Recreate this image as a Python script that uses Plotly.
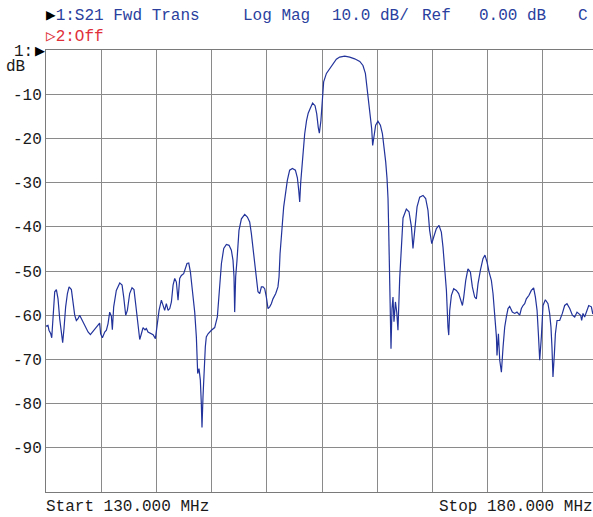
import plotly.graph_objects as go

# ---- data ----
freq_mhz = [
    130.00, 130.18, 130.27, 130.43, 130.52, 130.64, 130.79, 130.94, 131.09, 131.24,
    131.39, 131.51, 131.63, 131.78, 131.94, 132.09, 132.30, 132.45, 132.60, 132.75,
    132.90, 133.05, 133.20, 133.36, 133.60, 133.81, 134.02, 134.26, 134.50, 134.71,
    134.86, 134.95, 135.11, 135.32, 135.47, 135.62, 135.77, 135.92, 136.01, 136.13,
    136.37, 136.68, 136.89, 137.04, 137.22, 137.37, 137.58, 137.79, 137.97, 138.12,
    138.28, 138.49, 138.64, 138.79, 138.97, 139.09, 139.24, 139.45, 139.70, 139.91,
    140.06, 140.24, 140.45, 140.60, 140.75, 140.90, 141.06, 141.21, 141.36, 141.51,
    141.66, 141.81, 141.96, 142.11, 142.26, 142.47, 142.62, 142.77, 142.93, 143.08,
    143.26, 143.47, 143.62, 143.74, 143.86, 143.98, 144.07, 144.13, 144.22, 144.31,
    144.43, 144.52, 144.68, 144.98, 145.28, 145.52, 145.67, 145.89, 146.10, 146.34,
    146.58, 146.79, 146.94, 147.03, 147.09, 147.18, 147.30, 147.48, 147.70, 148.00,
    148.24, 148.45, 148.60, 148.75, 148.90, 149.06, 149.20, 149.36, 149.51, 149.66,
    149.81, 149.96, 150.11, 150.26, 150.41, 150.56, 150.81, 151.01, 151.11, 151.20,
    151.29, 151.41, 151.53, 151.71, 151.86, 152.07, 152.32, 152.59, 152.77, 152.89,
    152.98, 153.07, 153.19, 153.28, 153.43, 153.60, 153.75, 153.92, 154.15, 154.37,
    154.52, 154.66, 154.76, 154.90, 155.03, 155.15, 155.40, 155.70, 156.00, 156.30,
    156.60, 157.06, 157.51, 157.96, 158.42, 158.71, 158.93, 159.11, 159.26, 159.38,
    159.50, 159.59, 159.71, 159.86, 160.07, 160.29, 160.47, 160.62, 160.77, 160.89,
    160.98, 161.04, 161.13, 161.19, 161.25, 161.34, 161.43, 161.52, 161.65, 161.77,
    161.88, 162.04, 162.19, 162.34, 162.64, 162.88, 163.10, 163.24, 163.40, 163.61,
    163.85, 164.15, 164.39, 164.60, 164.75, 164.94, 165.12, 165.36, 165.60, 165.81,
    165.96, 166.11, 166.27, 166.41, 166.48, 166.57, 166.72, 166.93, 167.17, 167.38,
    167.56, 167.72, 167.84, 168.02, 168.22, 168.44, 168.62, 168.83, 168.98, 169.13,
    169.35, 169.58, 169.76, 169.95, 170.13, 170.34, 170.49, 170.64, 170.80, 170.85,
    170.98, 171.10, 171.25, 171.40, 171.55, 171.70, 171.85, 172.00, 172.24, 172.45,
    172.66, 172.91, 173.06, 173.21, 173.36, 173.51, 173.75, 173.96, 174.17, 174.33,
    174.48, 174.60, 174.72, 174.87, 175.02, 175.23, 175.47, 175.62, 175.74, 175.83,
    175.92, 176.05, 176.14, 176.29, 176.53, 176.77, 176.98, 177.19, 177.44, 177.68,
    177.89, 178.10, 178.28, 178.43, 178.52, 178.64, 178.79, 178.95, 179.16, 179.40,
    179.52, 180.00,
]
s21_db = [
    -62.5, -62.3, -63.4, -64.2, -65.1, -59.3, -54.7, -54.2, -56.3, -60.8,
    -64.5, -66.2, -63.0, -58.1, -55.1, -53.6, -54.2, -56.6, -60.0, -61.2,
    -60.8, -60.0, -60.8, -61.5, -63.0, -63.8, -64.4, -63.6, -62.8, -62.3,
    -61.8, -64.2, -65.1, -63.8, -63.4, -61.9, -59.3, -60.2, -63.3, -58.1,
    -54.4, -52.7, -53.2, -55.9, -60.0, -58.9, -55.1, -53.8, -54.2, -57.4,
    -61.5, -65.5, -64.2, -62.8, -63.3, -63.0, -63.8, -64.0, -64.4, -65.3,
    -61.9, -58.9, -56.6, -57.8, -58.9, -57.4, -58.9, -58.5, -57.0, -53.2,
    -51.7, -52.5, -56.6, -51.7, -51.0, -50.6, -49.5, -48.3, -48.2, -50.2,
    -54.4, -59.3, -64.9, -73.2, -72.1, -74.7, -80.0, -85.4, -78.5, -72.5,
    -67.2, -64.9, -64.2, -63.4, -62.8, -60.4, -54.4, -48.3, -44.9, -44.0,
    -44.2, -45.3, -47.6, -51.3, -59.3, -51.3, -47.6, -40.8, -38.2, -37.2,
    -37.8, -38.9, -41.5, -44.6, -48.3, -52.1, -54.7, -55.1, -53.6, -53.6,
    -54.0, -55.9, -58.5, -58.1, -57.4, -56.3, -55.1, -53.6, -51.3, -46.1,
    -42.3, -39.3, -35.5, -32.5, -29.5, -27.2, -26.8, -27.2, -28.9, -31.7,
    -34.4, -30.0, -26.0, -22.5, -19.0, -16.0, -14.3, -13.3, -12.0, -12.6,
    -14.4, -17.5, -18.8, -16.0, -10.2, -7.2, -5.3, -4.2, -3.1, -2.1,
    -1.6, -1.4, -1.6, -2.0, -2.6, -3.5, -5.3, -9.5, -11.8, -14.8,
    -17.8, -21.6, -18.9, -17.0, -16.1, -17.0, -18.9, -21.6, -25.3, -29.1,
    -33.6, -40.4, -50.2, -57.0, -67.6, -58.5, -55.9, -61.5, -57.0, -59.3,
    -63.4, -51.5, -43.5, -38.0, -36.0, -36.6, -40.0, -44.9, -40.8, -35.5,
    -33.3, -32.9, -33.6, -36.3, -40.8, -43.8, -42.3, -40.4, -39.7, -41.2,
    -44.6, -49.1, -54.4, -62.7, -64.5, -58.9, -55.5, -54.0, -54.4, -55.1,
    -56.6, -57.8, -55.9, -52.1, -49.5, -50.2, -53.6, -55.9, -56.3, -52.9,
    -49.8, -47.2, -46.4, -48.0, -50.2, -52.1, -55.1, -59.6, -64.9, -69.1,
    -64.2, -70.2, -72.9, -67.2, -62.7, -60.4, -58.5, -58.0, -59.3, -59.6,
    -59.3, -60.0, -58.5, -57.8, -57.4, -56.3, -55.5, -54.4, -53.8, -55.9,
    -58.9, -64.2, -70.2, -64.9, -57.8, -56.5, -57.4, -59.6, -62.7, -67.2,
    -74.0, -68.7, -64.2, -61.2, -61.2, -59.6, -57.8, -57.4, -58.5, -60.0,
    -60.4, -59.3, -59.6, -60.0, -61.2, -59.6, -60.4, -59.3, -57.8, -58.1,
    -59.6, -60.0,
]
y_tick_vals = [-10, -20, -30, -40, -50, -60, -70, -80, -90]
y_tick_text = ["-10", "-20", "-30", "-40", "-50", "-60", "-70", "-80", "-90"]
start_mhz = 130.0
stop_mhz = 180.0
mhz_per_div = 5.0

# ---- layout geometry (pixels) ----
W_FIG, H_FIG = 593, 517
L, R, T, B = 46, 0, 50, 25
PW = W_FIG - L - R
PH = H_FIG - T - B
PX_PER_MHZ = 11.04          # the screen continues past the right edge of the picture
x_end = start_mhz + PW / PX_PER_MHZ

def px(x):
    return (x - L) / PW

def py(y):
    return (T + PH - y) / PH

BLUE = "#2a3f9e"
TRACE = "#22339b"
RED = "#e0303a"
GRID = "#8a8a8a"
FONT = "Liberation Mono, DejaVu Sans Mono, monospace"
FS = 16

fig = go.Figure()
fig.add_trace(go.Scatter(
    x=freq_mhz, y=s21_db, mode="lines",
    line=dict(color=TRACE, width=1.2),
    hoverinfo="skip", showlegend=False,
))

fig.update_layout(
    width=W_FIG, height=H_FIG,
    margin=dict(l=L, r=R, t=T, b=B, pad=0, autoexpand=False),
    paper_bgcolor="white", plot_bgcolor="white",
    showlegend=False,
    xaxis=dict(
        range=[start_mhz, x_end], tick0=start_mhz, dtick=mhz_per_div,
        showgrid=True, gridcolor=GRID, gridwidth=1,
        showticklabels=False, ticks="", zeroline=False,
        showline=True, linecolor="#7a7a7a", linewidth=1, mirror=True,
        fixedrange=True, automargin=False,
    ),
    yaxis=dict(
        range=[-100, 0], tickvals=y_tick_vals, ticktext=y_tick_text,
        showgrid=True, gridcolor=GRID, gridwidth=1,
        ticks="", zeroline=False,
        showline=True, linecolor="#7a7a7a", linewidth=1, mirror=False,
        tickfont=dict(family=FONT, size=FS, color="#1a1a1a"),
        fixedrange=True, automargin=False,
    ),
)

def note(text, x, y, anchor="left", color=BLUE, size=FS, family=FONT):
    fig.add_annotation(
        text=text, xref="paper", yref="paper", x=px(x), y=py(y),
        xanchor=anchor, yanchor="middle", showarrow=False,
        font=dict(family=family, size=size, color=color),
    )

# header line 1
note("<span style='color:#000000'>\u25B6</span>1:S21 Fwd Trans", 44, 16)
note("Log Mag", 241, 16)
note("10.0 dB/", 330, 16)
note("Ref", 420, 16)
note("0.00 dB", 477, 16)
note("C", 576, 16)
# header line 2
note("\u25B72:Off", 44, 37, color=RED)
# reference marker on the left
note("1:", 35, 52, anchor="right", color="#1a1a1a")
note("\u25B6", 47, 50, anchor="right", color="#000000", size=13, family="DejaVu Sans")
note("dB", 4, 67, color="#1a1a1a")
# footer
note("Start 130.000 MHz", 44, 507, color="#1a1a1a")
note("Stop 180.000 MHz", 595, 507, anchor="right", color="#1a1a1a")

fig.write_html(
    "out.html",
    config={"displayModeBar": False},
    post_script="document.body.style.margin='0';document.body.style.overflow='hidden';",
)
